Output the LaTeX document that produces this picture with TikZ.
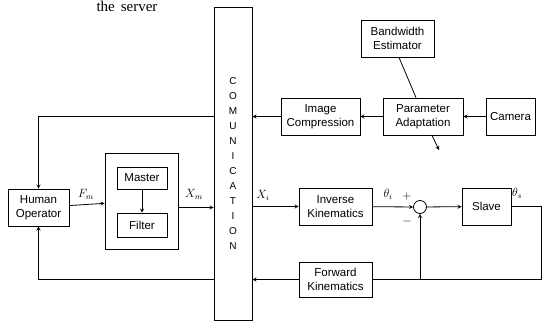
\documentclass[tikz,border=0pt]{standalone}
\usepackage{amsmath,amssymb}
\usepackage{fontspec}
\setmainfont{Liberation Sans}
\newfontfamily\serverfont{Liberation Serif}
\usepackage{tikz}

\tikzset{
  blk/.style={draw, rectangle, line width=.8pt, align=center,
    font=\fontsize{11.5}{14}\selectfont, inner sep=1pt},
  arr/.style={->,>=stealth, line width=.8pt},
  ln/.style={line width=.8pt},
  lbl/.style={font=\fontsize{12}{12}\selectfont}
}

\begin{document}
\begin{tikzpicture}[x=1pt, y=-1pt]
\useasboundingbox (0,0) rectangle (544,321);

% heading at the top
\node[font=\serverfont\fontsize{15}{15}\selectfont, anchor=base] (srv) at (127,11.5) {the\hspace{6pt}server};

% communication channel
\node[draw, line width=.8pt, minimum width=38pt, minimum height=313pt, align=center,
  font=\fontsize{10}{15}\selectfont] (comm) at (233,163.5)
  {C\\O\\M\\U\\N\\I\\C\\A\\T\\I\\O\\N};
\draw[line width=1.8pt] (comm.north east) -- (comm.south east);

% operator side
\node[blk, minimum width=61pt, minimum height=37pt] (ho) at (38.5,207.5) {Human\\Operator};
\node[draw, line width=.8pt, minimum width=73pt, minimum height=96pt] (mf) at (141.5,201) {};
\node[blk, minimum width=50pt, minimum height=22pt] (mst) at (142,178) {Master};
\node[blk, minimum width=50pt, minimum height=24pt] (flt) at (142,225) {Filter};

% image path
\node[blk, minimum width=73pt, minimum height=37pt] (bw) at (397.5,38.5) {Bandwidth\\Estimator};
\node[blk, minimum width=79pt, minimum height=37pt] (ic) at (320.5,116.5) {Image\\Compression};
\node[blk, minimum width=80pt, minimum height=37pt] (pa) at (423,116.5) {Parameter\\Adaptation};
\node[blk, minimum width=49pt, minimum height=37pt] (cam) at (510.5,116.5) {Camera};
\coordinate (pout) at (439,150);

% slave side
\node[blk, minimum width=73pt, minimum height=37pt] (ik) at (335.5,206.5) {Inverse\\Kinematics};
\node[draw, circle, line width=.8pt, minimum size=13pt, inner sep=0pt] (sum) at (420,207) {};
\node[blk, minimum width=49pt, minimum height=37pt] (slv) at (486.5,206.5) {Slave};
\node[blk, minimum width=73pt, minimum height=35pt] (fk) at (335.5,279.5) {Forward\\Kinematics};
\coordinate (cr) at (541,279.5);

% labels
\node[lbl] (fm) at (86,194) {$F_m$};
\node[lbl] (xm) at (194,194) {$X_m$};
\node[lbl] (xi) at (263,195) {$X_i$};
\node[lbl] (ti) at (388,194) {$\theta_i$};
\node[lbl] (ts) at (517,193) {$\theta_s$};
\node[lbl] (pl) at (407,196) {$+$};
\node[lbl] (mi) at (407,221) {$-$};

% connectors
\draw[arr] (cam) -- (pa);
\draw[arr] (pa) -- (ic);
\draw[arr] (ic.west) -- (ic.west -| comm.east);
\draw[ln] ([xshift=1.5pt]bw.south) -- ([xshift=-7pt]pa.north);
\draw[arr] ([xshift=9pt]pa.south) -- (pout);
\draw[arr] (comm.west |- ic) -| (ho.north);
\draw[arr] (ho) -- (mf);
\draw[arr] (mst) -- (flt);
\draw[arr] (mf.east |- ho) -- (comm.west |- ho);
\draw[arr] (comm.east |- ik) -- (ik.west);
\draw[arr] (ik) -- (sum);
\draw[arr] (sum) -- (slv);
\draw[ln] (slv.east) -| (cr) -- (fk.east);
\draw[arr] (sum |- fk) -- (sum.south);
\draw[arr] (fk.west) -- (fk.west -| comm.east);
\draw[arr] (comm.west |- fk) -| (ho.south);
\end{tikzpicture}
\end{document}
